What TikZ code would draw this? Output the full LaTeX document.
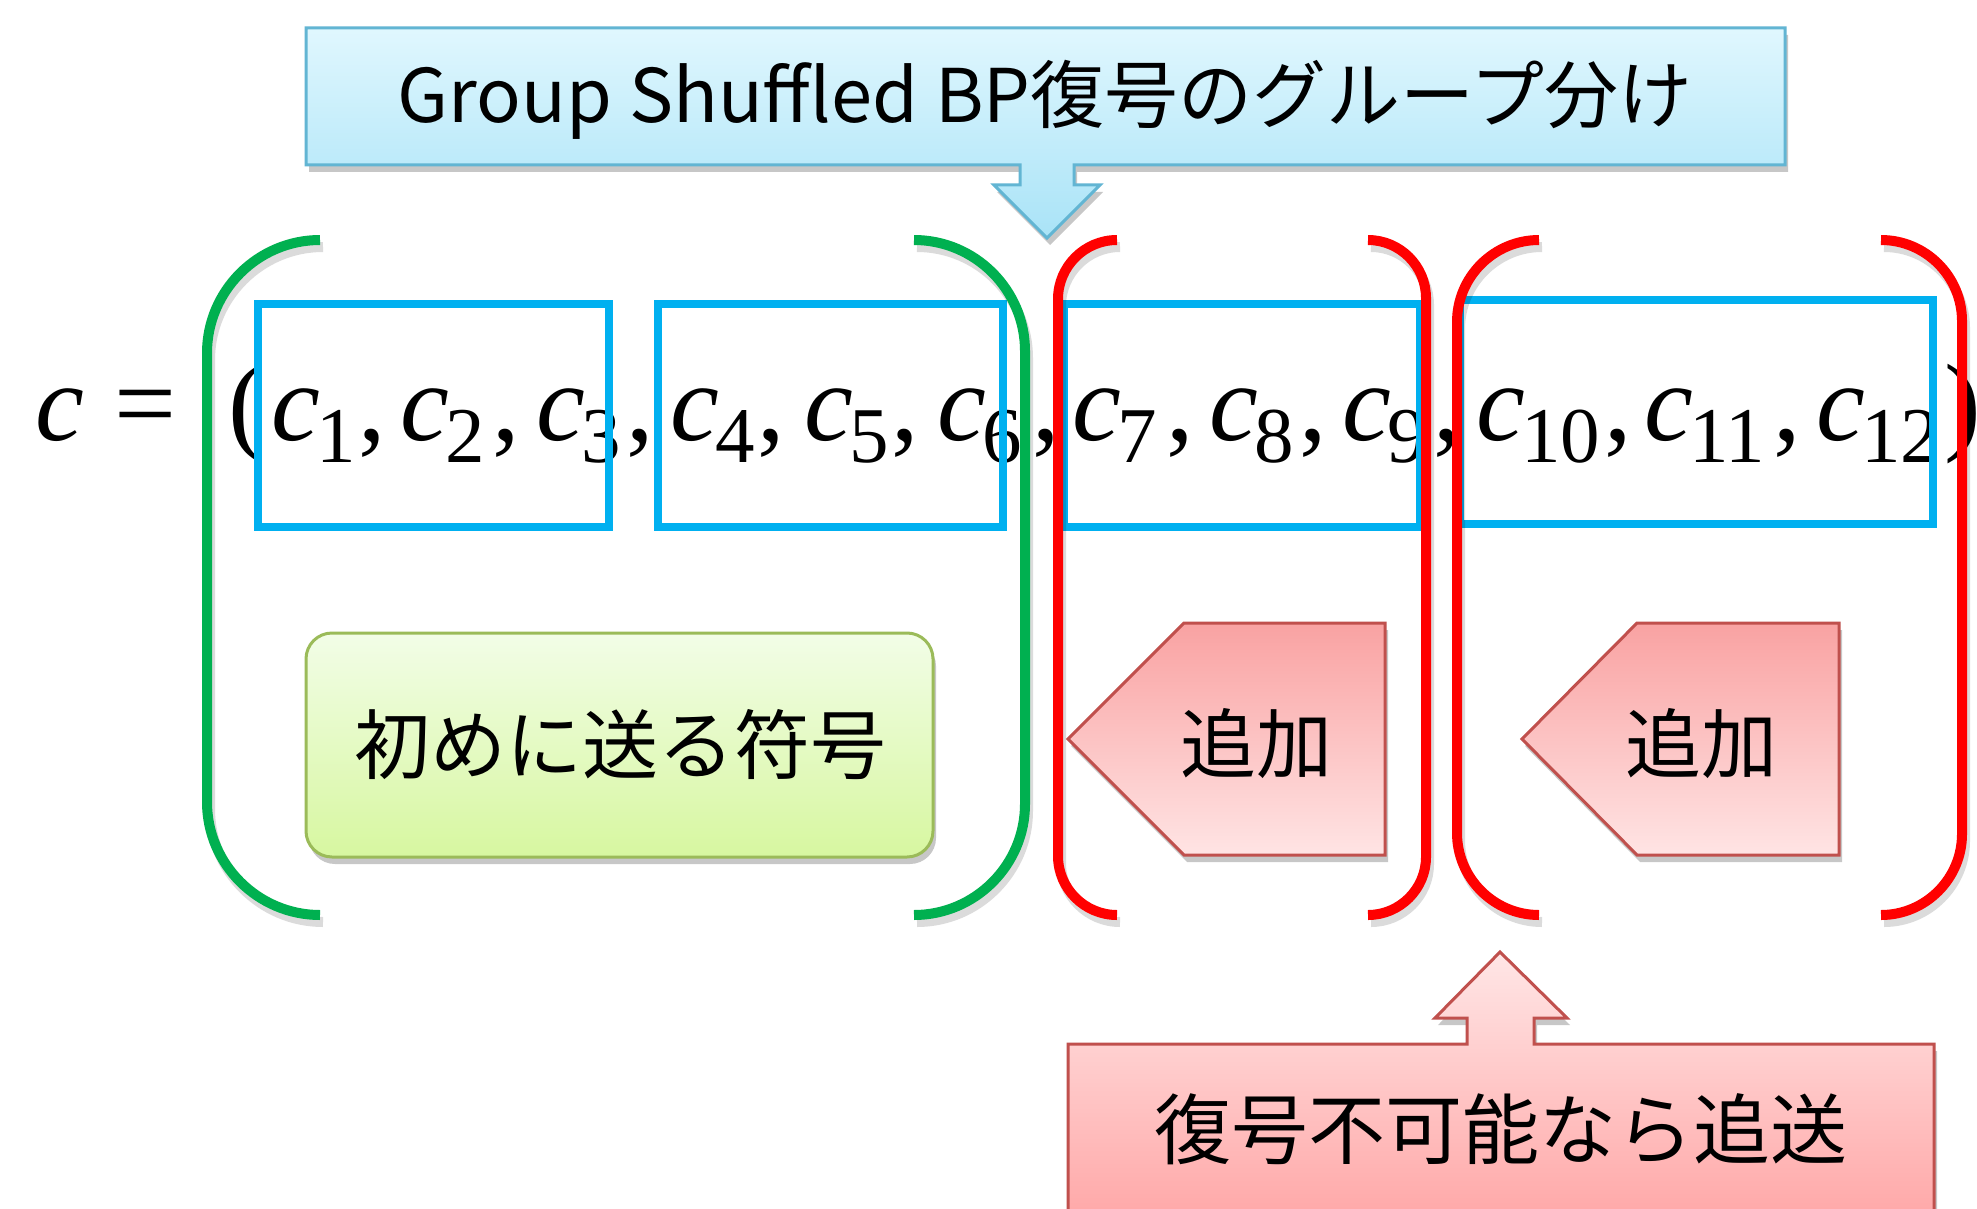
\documentclass[tikz,border=0pt]{standalone}
\usepackage{fontspec}
\newfontfamily\jpf{Noto Sans CJK JP}
\newfontfamily\mserif{Liberation Serif}
\usetikzlibrary{shadows}
\definecolor{cyanb}{HTML}{00B0F0}
\definecolor{greenb}{HTML}{00B050}
\definecolor{redb}{HTML}{FF0000}
\definecolor{callbd}{HTML}{62B5D3}
\definecolor{calltop}{HTML}{E0F7FE}
\definecolor{callbot}{HTML}{A9E3F7}
\definecolor{pinkbd}{HTML}{C0504D}
\definecolor{pinktop}{HTML}{F9A2A2}
\definecolor{pinkbot}{HTML}{FFE4E4}
\definecolor{resendtop}{HTML}{FFE6E6}
\definecolor{resendbot}{HTML}{FFA5A5}
\definecolor{grbd}{HTML}{9BBB59}
\definecolor{grtop}{HTML}{F2FDE7}
\definecolor{grbot}{HTML}{D7F7A0}
\newcommand\mybrk[3]{%
  \draw[#1] (#2,240) .. controls ({#2-0.55*(#2-#3)},240) and (#3,{240+0.45*abs(#2-#3)}) .. (#3,{240+abs(#2-#3)})
    -- (#3,{915-abs(#2-#3)}) .. controls (#3,{915-0.45*abs(#2-#3)}) and ({#2-0.55*(#2-#3)},915) .. (#2,915);}
\begin{document}
\begin{tikzpicture}[x=1pt,y=-1pt,
  every node/.style={inner sep=0pt,outer sep=0pt},
  jptext/.style={font=\jpf\fontsize{#1}{#1}\selectfont},
  mathc/.style={font=\mserif\itshape\fontsize{110}{110}\selectfont},
  mathr/.style={font=\mserif\fontsize{110}{110}\selectfont},
  subf/.style={font=\mserif\fontsize{79}{79}\selectfont},
  bluebox/.style={draw=cyanb,line width=8pt},
  brkline/.style={line width=10pt},
  brkshadow/.style={line width=10pt,draw=black,opacity=0.14,transform canvas={xshift=3pt,yshift=-7pt}},
  shadowed/.style={drop shadow={shadow xshift=3pt,shadow yshift=-7pt,opacity=0.22,fill=black}},
]
\path[use as bounding box] (0,0) rectangle (1977,1209);
\clip (0,0) rectangle (1977,1209);
\fill[white] (0,0) rectangle (1977,1209);

% top callout with down arrow
\path[shadowed,draw=callbd,line width=3pt,top color=calltop,bottom color=callbot]
  (306,28) -- (1785,28) -- (1785,165) -- (1074,165) -- (1074,185) -- (1100,185) -- (1047,238)
  -- (994,185) -- (1020,185) -- (1020,165) -- (306,165) -- cycle;
\node[jptext=74] (title) at (1045,100) {Group Shuffled BP復号のグループ分け};

% formula
\node[mathc,anchor=base west] (cv) at (35,440) {c};
\node[mathr,anchor=base west] (eq) at (114,440) {=};
\node[mathr,anchor=base west] (lp) at (228,440) {(};
\foreach \i/\x in {1/271,2/400,3/536,4/670,5/804,6/937,7/1072,8/1209,9/1342,10/1476,11/1644,12/1816}{
  \node[mathc,anchor=base west] (c\i) at (\x,440) {c};
  \node[subf,anchor=base west] (s\i) at (\x+45,462) {\i};
}
\foreach \j/\x in {1/358,2/492,3/626,4/757,5/891,6/1032,7/1166,8/1299,9/1433,10/1604,11/1773}{
  \node[mathr,anchor=base west] (k\j) at (\x,440) {,};
}
\node[mathr,anchor=base west] (rp) at (1944,440) {)};

% group boxes
\node[bluebox,minimum width=351pt,minimum height=223pt] (g1) at (433.5,415.5) {};
\node[bluebox,minimum width=345pt,minimum height=223pt] (g2) at (830.5,415.5) {};
\node[bluebox,minimum width=356pt,minimum height=223pt] (g3) at (1242,415.5) {};
\node[bluebox,minimum width=473pt,minimum height=224pt] (g4) at (1696.5,412) {};

% bracket shadows
\mybrk{brkshadow}{320}{207}
\mybrk{brkshadow}{914}{1025}
\mybrk{brkshadow}{1117}{1058}
\mybrk{brkshadow}{1368}{1426}
\mybrk{brkshadow}{1539}{1457}
\mybrk{brkshadow}{1881}{1962}
% brackets
\mybrk{brkline,greenb}{320}{207}
\mybrk{brkline,greenb}{914}{1025}
\mybrk{brkline,redb}{1117}{1058}
\mybrk{brkline,redb}{1368}{1426}
\mybrk{brkline,redb}{1539}{1457}
\mybrk{brkline,redb}{1881}{1962}

% first-sent box
\path[shadowed,draw=grbd,line width=3pt,top color=grtop,bottom color=grbot,rounded corners=26pt]
  (306,633) rectangle (933,857);
\node[jptext=76] (first) at (620,745) {初めに送る符号};

% add arrows
\path[shadowed,draw=pinkbd,line width=3pt,top color=pinktop,bottom color=pinkbot]
  (1068,739) -- (1184,623) -- (1385,623) -- (1385,855) -- (1184,855) -- cycle;
\node[jptext=76] (add1) at (1256,744) {追加};
\path[shadowed,draw=pinkbd,line width=3pt,top color=pinktop,bottom color=pinkbot]
  (1522,739) -- (1637,623) -- (1839,623) -- (1839,855) -- (1637,855) -- cycle;
\node[jptext=76] (add2) at (1701,744) {追加};

% bottom callout with up arrow
\path[shadowed,draw=pinkbd,line width=3pt,top color=resendtop,bottom color=resendbot]
  (1068,1044) -- (1467,1044) -- (1467,1018) -- (1435,1018) -- (1500,952) -- (1567,1018)
  -- (1534,1018) -- (1534,1044) -- (1934,1044) -- (1934,1230) -- (1068,1230) -- cycle;
\node[jptext=77] (resend) at (1501,1129) {復号不可能なら追送};
\end{tikzpicture}
\end{document}
